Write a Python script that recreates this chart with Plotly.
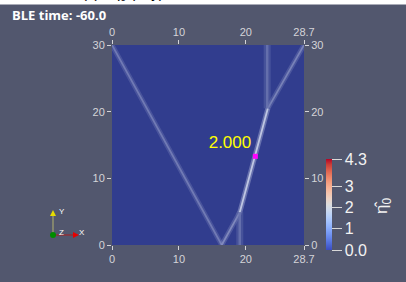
import plotly.graph_objects as go

# ---------------- data ----------------
# characteristic streaks of eta0 (segments in domain coordinates)
seg_x = [[0.0, 16.4], [16.4, 19.1], [19.1, 23.3], [23.3, 28.7], [19.1, 19.1], [23.2, 23.2]]
seg_y = [[30.0, 0.0], [0.0, 4.9], [4.9, 20.5], [20.5, 30.0], [0.0, 4.9], [20.5, 30.0]]
seg_val = [0.9, 1.1, 2.0, 1.0, 0.8, 0.8]

probe_x = [21.43]
probe_y = [13.3]
probe_val = [2.0]

x_ticks = [0, 10, 20, 28.7]
x_ticktext = ["0", "10", "20", "28.7"]
y_ticks = [0, 10, 20, 30]
y_ticktext = ["0", "10", "20", "30"]

cbar_min, cbar_max = 0.0, 4.3
cbar_ticks = [0.0, 1, 2, 3, 4.3]
cbar_ticktext = ["0.0", "1", "2", "3", "4.3"]

# ---------------- style ----------------
BG = "rgb(82,87,110)"
PLOT_BG = (49, 61, 142)
HI = (222, 228, 244)
TICK_COL = "#d4d4d8"
FONT = "Liberation Sans"

cool_warm = [
    [0.0, "rgb(59,76,192)"], [0.0625, "rgb(77,104,215)"], [0.125, "rgb(98,130,234)"],
    [0.1875, "rgb(119,154,247)"], [0.25, "rgb(141,176,254)"], [0.3125, "rgb(163,194,255)"],
    [0.375, "rgb(184,208,249)"], [0.4375, "rgb(204,217,238)"], [0.5, "rgb(221,221,221)"],
    [0.5625, "rgb(236,211,197)"], [0.625, "rgb(245,196,173)"], [0.6875, "rgb(247,177,148)"],
    [0.75, "rgb(244,154,123)"], [0.8125, "rgb(236,127,99)"], [0.875, "rgb(222,96,77)"],
    [0.9375, "rgb(203,62,56)"], [1.0, "rgb(180,4,38)"],
]


def streak_color(v, alpha=1.0):
    f = min(1.0, v / 2.2)
    c = [round(PLOT_BG[i] + (HI[i] - PLOT_BG[i]) * f) for i in range(3)]
    return f"rgba({c[0]},{c[1]},{c[2]},{alpha})"


fig = go.Figure()

for xs, ys, v in zip(seg_x, seg_y, seg_val):
    vertical = xs[0] == xs[1]
    fig.add_trace(go.Scatter(x=xs, y=ys, mode="lines", hoverinfo="skip", showlegend=False,
                             line=dict(color=streak_color(v, 0.35), width=7 if vertical else 5)))
    fig.add_trace(go.Scatter(x=xs, y=ys, mode="lines", hoverinfo="skip", showlegend=False,
                             line=dict(color=streak_color(v * 0.9 if vertical else v, 0.85),
                                       width=2.5 if vertical else 1.8)))

# probe point with value label
fig.add_trace(go.Scatter(
    x=probe_x, y=probe_y, mode="markers+text", showlegend=False,
    text=[f"{v:.3f}" for v in probe_val], textposition="top left",
    textfont=dict(family=FONT, size=17, color="#ffff00"),
    marker=dict(symbol="square", size=5, color="#ff00ff"),
))

# colorbar carrier
fig.add_trace(go.Scatter(
    x=probe_x, y=probe_y, mode="markers", showlegend=False, hoverinfo="skip",
    marker=dict(color=probe_val, cmin=cbar_min, cmax=cbar_max, colorscale=cool_warm,
                opacity=0, size=1, showscale=True,
                colorbar=dict(thickness=6, len=91, lenmode="pixels",
                              x=1.115, xanchor="left", y=-0.025, yanchor="bottom",
                              outlinewidth=0, ticks="outside", ticklen=10, tickwidth=1,
                              tickcolor="#d8d8d8", tickvals=cbar_ticks, ticktext=cbar_ticktext,
                              tickfont=dict(family=FONT, size=16, color="#f2f2f2"),
                              xpad=0, ypad=0)),
))

# dummy trace to activate top/right axes
fig.add_trace(go.Scatter(x=[x_ticks[0]], y=[y_ticks[0]], xaxis="x2", yaxis="y2",
                         mode="markers", marker=dict(opacity=0), showlegend=False,
                         hoverinfo="skip"))

ax_common = dict(showgrid=False, zeroline=False, showline=False, ticks="outside",
                 ticklen=4, tickwidth=1, tickcolor=TICK_COL,
                 tickfont=dict(family=FONT, size=11, color=TICK_COL))

fig.update_layout(
    width=406, height=282,
    margin=dict(l=112, r=102, t=45, b=37),
    paper_bgcolor=BG,
    plot_bgcolor="rgb(%d,%d,%d)" % PLOT_BG,
    xaxis=dict(range=[0, 28.7], tickvals=x_ticks, ticktext=x_ticktext, **ax_common),
    yaxis=dict(range=[0, 30], tickvals=y_ticks, ticktext=y_ticktext, **ax_common),
    xaxis2=dict(range=[0, 28.7], tickvals=x_ticks, ticktext=x_ticktext, overlaying="x",
                side="top", anchor="y", **ax_common),
    yaxis2=dict(range=[0, 30], tickvals=y_ticks, ticktext=y_ticktext, overlaying="y",
                side="right", anchor="x", **ax_common),
    showlegend=False,
)


def px(xp):
    return (xp - 112) / 192


def py(yp):
    return (245 - yp) / 200


# white strip at top with clipped caption
fig.add_shape(type="rect", xref="paper", yref="paper", x0=px(-5), x1=px(411),
              y0=py(4.5), y1=py(-5), fillcolor="white", line=dict(width=0), layer="above")
fig.add_annotation(text="Φ(x) , η̂<sub>0</sub> (x, y)", xref="paper", yref="paper",
                   x=px(68), y=py(5), xanchor="left", yanchor="bottom", showarrow=False,
                   font=dict(family=FONT, size=15, color="black"))

# time label
fig.add_annotation(text="<b>BLE time: -60.0</b>", xref="paper", yref="paper",
                   x=px(10), y=py(15), xanchor="left", yanchor="middle", showarrow=False,
                   font=dict(family="Open Sans", size=13, color="white"))

# colorbar title
fig.add_annotation(text="η̂<sub>0</sub>", xref="paper", yref="paper",
                   x=px(383), y=py(206), xanchor="center", yanchor="middle", showarrow=False,
                   textangle=-90, font=dict(family=FONT, size=17, color="#f2f2f2"))

# orientation triad (decorative, pixel-placed)
ox, oy = 53, 235
fig.add_shape(type="line", xref="paper", yref="paper", x0=px(ox), y0=py(oy),
              x1=px(ox), y1=py(oy - 20), line=dict(color="rgb(180,180,110)", width=1))
fig.add_shape(type="path", xref="paper", yref="paper",
              path=f"M {px(ox-3)} {py(oy-19)} L {px(ox+3)} {py(oy-19)} L {px(ox)} {py(oy-25)} Z",
              fillcolor="rgb(230,220,0)", line=dict(width=0))
fig.add_shape(type="line", xref="paper", yref="paper", x0=px(ox), y0=py(oy),
              x1=px(ox + 21), y1=py(oy), line=dict(color="rgb(170,30,30)", width=1))
fig.add_shape(type="path", xref="paper", yref="paper",
              path=f"M {px(ox+20)} {py(oy-3)} L {px(ox+20)} {py(oy+3)} L {px(ox+26)} {py(oy)} Z",
              fillcolor="rgb(230,0,0)", line=dict(width=0))
fig.add_shape(type="circle", xref="paper", yref="paper", x0=px(ox - 3), x1=px(ox + 3),
              y0=py(oy + 3), y1=py(oy - 3), fillcolor="rgb(0,140,0)", line=dict(width=0))
for lbl, lx, ly in [("Y", ox + 4, oy - 24), ("Z", ox + 4, oy - 3), ("X", ox + 24, oy - 3)]:
    fig.add_annotation(text=lbl, xref="paper", yref="paper", x=px(lx), y=py(ly),
                       xanchor="left", yanchor="middle", showarrow=False,
                       font=dict(family=FONT, size=8, color="white"))

fig.write_html("out.html", config={"displayModeBar": False},
               post_script="document.body.style.margin='0';")
